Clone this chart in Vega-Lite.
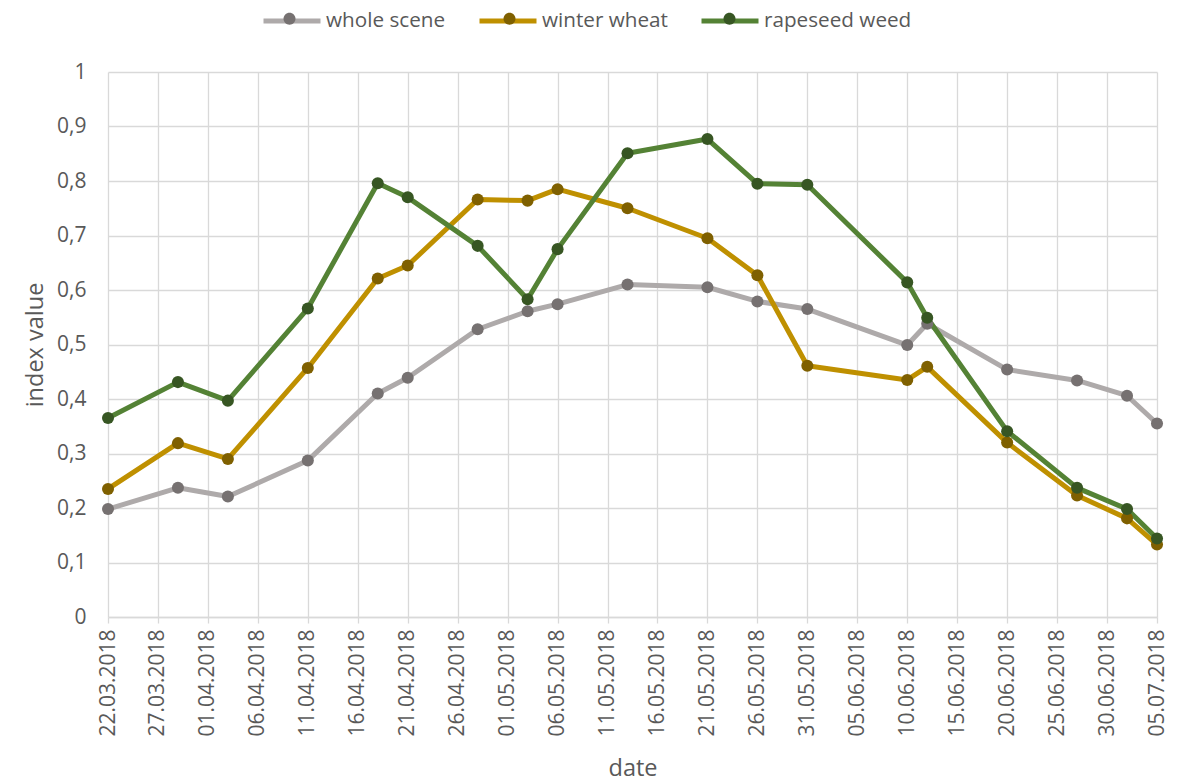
{
  "$schema": "https://vega.github.io/schema/vega-lite/v6.json",
  "autosize": {"type": "none"},
  "width": 1049,
  "height": 545,
  "padding": {"left": 108, "top": 72, "right": 24, "bottom": 165},
  "background": "white",
  "config": {
    "view": {"stroke": null},
    "font": "Open Sans",
    "axis": {
      "labelFont": "Open Sans",
      "labelFontSize": 21,
      "labelColor": "#595959",
      "titleFont": "Open Sans",
      "titleFontSize": 23.5,
      "titleFontWeight": "normal",
      "titleColor": "#595959",
      "gridColor": "#D9D9D9",
      "gridWidth": 1.3
    }
  },
  "data": {
    "values": [
      {"date": "2018-03-22", "series": "whole scene", "value": 0.198},
      {"date": "2018-03-29", "series": "whole scene", "value": 0.237},
      {"date": "2018-04-03", "series": "whole scene", "value": 0.221},
      {"date": "2018-04-11", "series": "whole scene", "value": 0.287},
      {"date": "2018-04-18", "series": "whole scene", "value": 0.410},
      {"date": "2018-04-21", "series": "whole scene", "value": 0.439},
      {"date": "2018-04-28", "series": "whole scene", "value": 0.528},
      {"date": "2018-05-03", "series": "whole scene", "value": 0.561},
      {"date": "2018-05-06", "series": "whole scene", "value": 0.574},
      {"date": "2018-05-13", "series": "whole scene", "value": 0.610},
      {"date": "2018-05-21", "series": "whole scene", "value": 0.605},
      {"date": "2018-05-26", "series": "whole scene", "value": 0.579},
      {"date": "2018-05-31", "series": "whole scene", "value": 0.565},
      {"date": "2018-06-10", "series": "whole scene", "value": 0.499},
      {"date": "2018-06-12", "series": "whole scene", "value": 0.538},
      {"date": "2018-06-20", "series": "whole scene", "value": 0.454},
      {"date": "2018-06-27", "series": "whole scene", "value": 0.434},
      {"date": "2018-07-02", "series": "whole scene", "value": 0.406},
      {"date": "2018-07-05", "series": "whole scene", "value": 0.355},
      {"date": "2018-03-22", "series": "winter wheat", "value": 0.235},
      {"date": "2018-03-29", "series": "winter wheat", "value": 0.319},
      {"date": "2018-04-03", "series": "winter wheat", "value": 0.290},
      {"date": "2018-04-11", "series": "winter wheat", "value": 0.457},
      {"date": "2018-04-18", "series": "winter wheat", "value": 0.621},
      {"date": "2018-04-21", "series": "winter wheat", "value": 0.645},
      {"date": "2018-04-28", "series": "winter wheat", "value": 0.766},
      {"date": "2018-05-03", "series": "winter wheat", "value": 0.764},
      {"date": "2018-05-06", "series": "winter wheat", "value": 0.785},
      {"date": "2018-05-13", "series": "winter wheat", "value": 0.750},
      {"date": "2018-05-21", "series": "winter wheat", "value": 0.695},
      {"date": "2018-05-26", "series": "winter wheat", "value": 0.627},
      {"date": "2018-05-31", "series": "winter wheat", "value": 0.461},
      {"date": "2018-06-10", "series": "winter wheat", "value": 0.435},
      {"date": "2018-06-12", "series": "winter wheat", "value": 0.459},
      {"date": "2018-06-20", "series": "winter wheat", "value": 0.320},
      {"date": "2018-06-27", "series": "winter wheat", "value": 0.223},
      {"date": "2018-07-02", "series": "winter wheat", "value": 0.181},
      {"date": "2018-07-05", "series": "winter wheat", "value": 0.133},
      {"date": "2018-03-22", "series": "rapeseed weed", "value": 0.365},
      {"date": "2018-03-29", "series": "rapeseed weed", "value": 0.431},
      {"date": "2018-04-03", "series": "rapeseed weed", "value": 0.397},
      {"date": "2018-04-11", "series": "rapeseed weed", "value": 0.566},
      {"date": "2018-04-18", "series": "rapeseed weed", "value": 0.796},
      {"date": "2018-04-21", "series": "rapeseed weed", "value": 0.770},
      {"date": "2018-04-28", "series": "rapeseed weed", "value": 0.681},
      {"date": "2018-05-03", "series": "rapeseed weed", "value": 0.583},
      {"date": "2018-05-06", "series": "rapeseed weed", "value": 0.675},
      {"date": "2018-05-13", "series": "rapeseed weed", "value": 0.851},
      {"date": "2018-05-21", "series": "rapeseed weed", "value": 0.877},
      {"date": "2018-05-26", "series": "rapeseed weed", "value": 0.795},
      {"date": "2018-05-31", "series": "rapeseed weed", "value": 0.793},
      {"date": "2018-06-10", "series": "rapeseed weed", "value": 0.614},
      {"date": "2018-06-12", "series": "rapeseed weed", "value": 0.549},
      {"date": "2018-06-20", "series": "rapeseed weed", "value": 0.341},
      {"date": "2018-06-27", "series": "rapeseed weed", "value": 0.237},
      {"date": "2018-07-02", "series": "rapeseed weed", "value": 0.198},
      {"date": "2018-07-05", "series": "rapeseed weed", "value": 0.144}
    ]
  },
  "encoding": {
    "x": {
      "field": "date",
      "type": "temporal",
      "scale": {
        "type": "utc",
        "domain": [
          {"year": 2018, "month": 3, "date": 22, "utc": true},
          {"year": 2018, "month": 7, "date": 5, "utc": true}
        ],
        "nice": false
      },
      "axis": {
        "title": "date",
        "format": "%d.%m.%Y",
        "labelAngle": 270,
        "labelPadding": 6,
        "labelOverlap": false,
        "labelFlush": false,
        "tickSize": 6,
        "tickColor": "#D9D9D9",
        "tickWidth": 1.3,
        "domainColor": "#D9D9D9",
        "domainWidth": 1.3,
        "titlePadding": 20,
        "values": [
          {"year": 2018, "month": 3, "date": 22, "utc": true},
          {"year": 2018, "month": 3, "date": 27, "utc": true},
          {"year": 2018, "month": 4, "date": 1, "utc": true},
          {"year": 2018, "month": 4, "date": 6, "utc": true},
          {"year": 2018, "month": 4, "date": 11, "utc": true},
          {"year": 2018, "month": 4, "date": 16, "utc": true},
          {"year": 2018, "month": 4, "date": 21, "utc": true},
          {"year": 2018, "month": 4, "date": 26, "utc": true},
          {"year": 2018, "month": 5, "date": 1, "utc": true},
          {"year": 2018, "month": 5, "date": 6, "utc": true},
          {"year": 2018, "month": 5, "date": 11, "utc": true},
          {"year": 2018, "month": 5, "date": 16, "utc": true},
          {"year": 2018, "month": 5, "date": 21, "utc": true},
          {"year": 2018, "month": 5, "date": 26, "utc": true},
          {"year": 2018, "month": 5, "date": 31, "utc": true},
          {"year": 2018, "month": 6, "date": 5, "utc": true},
          {"year": 2018, "month": 6, "date": 10, "utc": true},
          {"year": 2018, "month": 6, "date": 15, "utc": true},
          {"year": 2018, "month": 6, "date": 20, "utc": true},
          {"year": 2018, "month": 6, "date": 25, "utc": true},
          {"year": 2018, "month": 6, "date": 30, "utc": true},
          {"year": 2018, "month": 7, "date": 5, "utc": true}
        ]
      }
    },
    "y": {
      "field": "value",
      "type": "quantitative",
      "scale": {"domain": [0, 1], "nice": false, "zero": true},
      "axis": {
        "title": "index value",
        "values": [0, 0.1, 0.2, 0.3, 0.4, 0.5, 0.6, 0.7, 0.8, 0.9, 1],
        "labelExpr": "replace(format(datum.value, '.1~f'), '.', ',')",
        "ticks": false,
        "domain": false,
        "labelPadding": 22,
        "titlePadding": 9
      }
    }
  },
  "layer": [
    {
      "mark": {"type": "line", "strokeWidth": 5, "strokeJoin": "round", "strokeCap": "round"},
      "encoding": {
        "stroke": {
          "field": "series",
          "type": "nominal",
          "sort": ["whole scene", "winter wheat", "rapeseed weed"],
          "scale": {"range": ["#AEAAAA", "#BF9000", "#548235"]},
          "legend": {
            "orient": "none",
            "legendX": 153,
            "legendY": -82,
            "direction": "horizontal",
            "title": null,
            "symbolType": "M-1,0L1,0",
            "symbolSize": 3249,
            "symbolStrokeWidth": 5,
            "labelFont": "Open Sans",
            "labelFontSize": 20.7,
            "labelColor": "#595959",
            "labelOffset": 3,
            "columnPadding": 23,
            "padding": 0
          }
        }
      }
    },
    {
      "mark": {"type": "point", "filled": true, "size": 145, "opacity": 1},
      "encoding": {
        "fill": {
          "field": "series",
          "type": "nominal",
          "scale": {
            "domain": ["whole scene", "winter wheat", "rapeseed weed"],
            "range": ["#767171", "#7F6000", "#375623"]
          },
          "legend": {
            "orient": "none",
            "legendX": 153,
            "legendY": -82,
            "direction": "horizontal",
            "title": null,
            "symbolType": "M0.21,0A0.21,0.21 0 1 1 -0.21,0A0.21,0.21 0 1 1 0.21,0Z",
            "symbolSize": 3249,
            "symbolStrokeWidth": 0,
            "symbolOpacity": 1,
            "labelExpr": "''",
            "labelFontSize": 1,
            "labelOffset": 0,
            "columnPadding": 163,
            "padding": 0
          }
        }
      }
    }
  ]
}
